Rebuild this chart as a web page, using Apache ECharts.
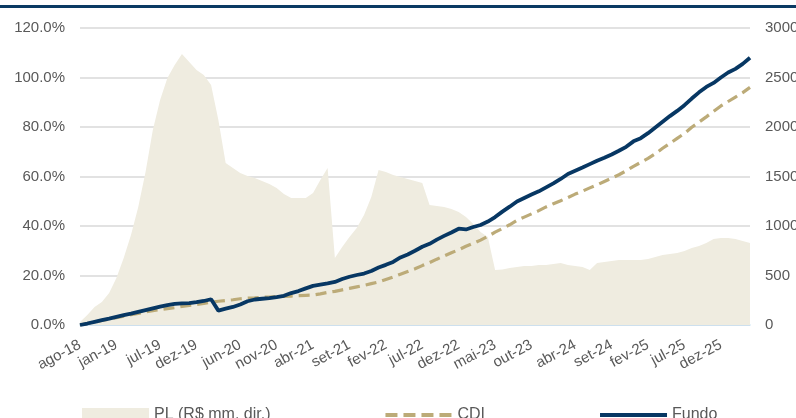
<!DOCTYPE html>
<html>
<head>
<meta charset="utf-8">
<script src="https://cdn.jsdelivr.net/npm/echarts@6/dist/echarts.min.js"></script>
<style>
  html, body { margin: 0; padding: 0; background: #fff; }
  #chart { width: 796px; height: 418px; }
</style>
</head>
<body>
<div id="chart"></div>
<script>
var monthNames = ['jan', 'fev', 'mar', 'abr', 'mai', 'jun', 'jul', 'ago', 'set', 'out', 'nov', 'dez'];
// ago-18 .. abr-26, one point per month
var months = [];
for (var y = 2018; y <= 2026; y++) {
  for (var m = 0; m < 12; m++) {
    if (y === 2018 && m < 7) continue;
    if (y === 2026 && m > 3) continue;
    months.push(monthNames[m] + '-' + String(y).slice(2));
  }
}

var tickLabels = ['ago-18', 'jan-19', 'jul-19', 'dez-19', 'jun-20', 'nov-20', 'abr-21', 'set-21', 'fev-22',
  'jul-22', 'dez-22', 'mai-23', 'out-23', 'abr-24', 'set-24', 'fev-25', 'jul-25', 'dez-25'];

// PL (R$ mm), right axis
var pl = [30, 100, 182, 232, 323, 475, 677, 909, 1192, 1545, 1970, 2273, 2495, 2626, 2737, 2656, 2576, 2525, 2424, 2071,
  1636, 1586, 1535, 1505, 1485, 1454, 1424, 1384, 1323, 1283, 1283, 1283, 1333, 1465, 1586, 677, 788, 889, 980, 1111,
  1293, 1566, 1545, 1515, 1495, 1475, 1454, 1434, 1212, 1202, 1192, 1172, 1141, 1091, 1020, 939, 889, 556, 560, 576,
  586, 596, 596, 606, 606, 616, 626, 606, 596, 586, 556, 626, 636, 646, 657, 657, 657, 657, 667, 687,
  707, 717, 727, 747, 778, 798, 828, 869, 879, 879, 869, 848, 828];

// CDI acumulado (%)
var cdi = [0, 0.6, 1.2, 1.8, 2.4, 3.0, 3.6, 4.2, 4.7, 5.3, 5.8, 6.2, 6.6, 7.0, 7.5, 7.9, 8.3, 8.7, 9.2, 9.6,
  9.9, 10.2, 10.6, 10.9, 11.0, 11.2, 11.3, 11.5, 11.6, 11.7, 11.9, 12.0, 12.1, 12.6, 13.2, 13.6, 14.2, 14.8, 15.4, 16.0,
  16.7, 17.4, 18.4, 19.4, 20.5, 21.6, 22.7, 24.0, 25.2, 26.6, 27.9, 29.2, 30.4, 31.8, 33.0, 34.3, 35.8, 37.5, 39.0, 40.5,
  42.3, 43.6, 44.9, 46.2, 47.7, 49.0, 50.2, 51.5, 52.9, 54.1, 55.4, 56.6, 58.0, 59.3, 60.7, 62.3, 64.1, 65.7, 67.3, 69.2,
  71.4, 73.4, 75.4, 77.4, 79.9, 82.0, 84.1, 86.3, 88.5, 90.3, 92.1, 93.9, 96.0];

// Fundo acumulado (%)
var fundo = [0, 0.6, 1.3, 2.0, 2.6, 3.3, 4.0, 4.6, 5.3, 6.0, 6.7, 7.4, 8.0, 8.5, 8.7, 8.8, 9.2, 9.7, 10.4, 5.8,
  6.6, 7.3, 8.3, 9.6, 10.3, 10.6, 10.9, 11.3, 11.8, 12.9, 13.7, 14.8, 15.8, 16.3, 16.8, 17.4, 18.6, 19.5, 20.2, 20.8,
  21.8, 23.2, 24.3, 25.5, 27.3, 28.5, 30.0, 31.6, 32.8, 34.5, 36.0, 37.4, 38.9, 38.6, 39.6, 40.4, 41.8, 43.6, 45.8, 47.8,
  49.9, 51.3, 52.7, 54.0, 55.6, 57.2, 59.0, 61.0, 62.3, 63.6, 65.0, 66.4, 67.6, 68.9, 70.4, 72.0, 74.2, 75.5, 77.5, 79.8,
  82.1, 84.4, 86.5, 88.8, 91.5, 94.0, 96.2, 97.8, 100.0, 102.0, 103.5, 105.5, 108.0];

var textColor = '#595959';
var font = 'Liberation Sans, Arial, sans-serif';

var chart = echarts.init(document.getElementById('chart'));
chart.setOption({
  animation: false,
  graphic: [{
    type: 'rect',
    shape: { x: 0, y: 5, width: 796, height: 3 },
    style: { fill: '#0b3a63' }
  }],
  grid: { left: 80, right: 46, top: 28, bottom: 93, containLabel: false, outerBoundsMode: 'none' },
  legend: {
    left: 77,
    top: 402,
    itemWidth: 67,
    itemHeight: 14,
    itemGap: 113,
    textStyle: { color: textColor, fontSize: 16, fontFamily: font },
    data: [
      { name: 'PL (R$ mm, dir.)', icon: 'rect' },
      { name: 'CDI', itemStyle: { opacity: 0 }, lineStyle: { width: 4, type: [12, 6] } },
      { name: 'Fundo', itemStyle: { opacity: 0 }, lineStyle: { width: 4 } }
    ]
  },
  xAxis: {
    type: 'category',
    data: months,
    boundaryGap: false,
    axisLine: { lineStyle: { color: '#c6e0f2', width: 1.5 } },
    axisTick: { show: false },
    axisLabel: {
      rotate: 28,
      margin: 19,
      color: textColor,
      fontSize: 15,
      fontFamily: font,
      interval: function (index, value) {
        return tickLabels.indexOf(value) !== -1;
      }
    },
    splitLine: { show: false }
  },
  yAxis: [{
    type: 'value',
    min: 0,
    max: 120,
    interval: 20,
    axisLine: { show: false },
    axisTick: { show: false },
    axisLabel: {
      margin: 15,
      color: textColor,
      fontSize: 15,
      fontFamily: font,
      formatter: function (v) { return v.toFixed(1) + '%'; }
    },
    splitLine: { lineStyle: { color: '#d9d9d9', width: 1.5 } }
  }, {
    type: 'value',
    min: 0,
    max: 3000,
    interval: 500,
    axisLine: { show: false },
    axisTick: { show: false },
    axisLabel: {
      margin: 15,
      color: textColor,
      fontSize: 15,
      fontFamily: font,
      formatter: function (v) { return String(v); }
    },
    splitLine: { show: false }
  }],
  series: [{
    name: 'PL (R$ mm, dir.)',
    type: 'line',
    yAxisIndex: 1,
    data: pl,
    showSymbol: false,
    symbol: 'none',
    lineStyle: { width: 0 },
    itemStyle: { color: '#efece0' },
    areaStyle: { color: '#efece0', opacity: 1 },
    z: 1
  }, {
    name: 'CDI',
    type: 'line',
    data: cdi,
    showSymbol: false,
    symbol: 'none',
    itemStyle: { color: '#bcab78' },
    lineStyle: { color: '#bcab78', width: 3.2, type: [11, 6] },
    z: 3
  }, {
    name: 'Fundo',
    type: 'line',
    data: fundo,
    showSymbol: false,
    symbol: 'none',
    itemStyle: { color: '#073763' },
    lineStyle: { color: '#073763', width: 3.8 },
    z: 4
  }]
});
</script>
</body>
</html>
